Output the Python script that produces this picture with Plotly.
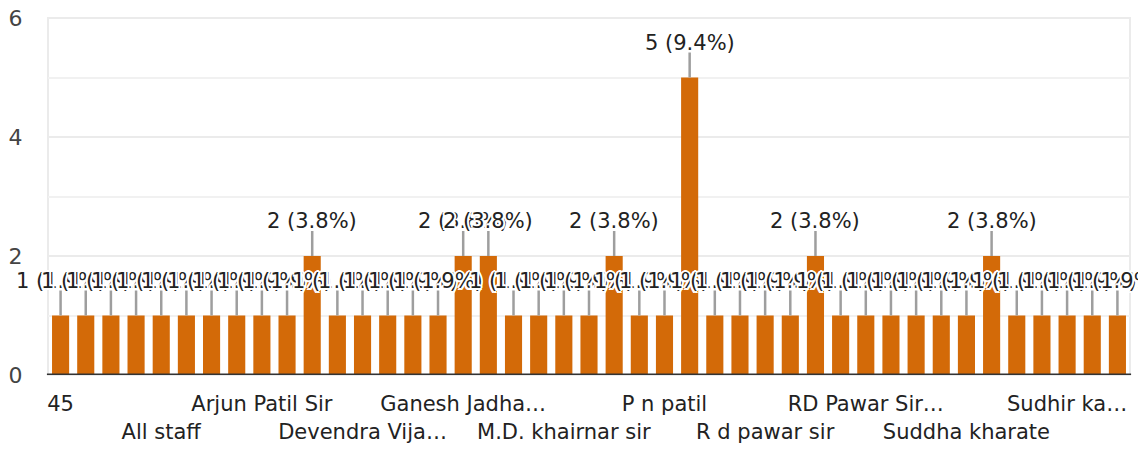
import plotly.graph_objects as go

# Responses per person (43 answers, alphabetical order)
counts = [1, 1, 1, 1, 1, 1, 1, 1, 1, 1, 2, 1, 1,
          1, 1, 1, 2, 2, 1, 1, 1, 1, 2, 1, 1, 5, 1, 1,
          1, 1, 2, 1, 1, 1, 1, 1, 1, 2, 1, 1, 1, 1, 1]

# Axis labels that fit under the bars (every fourth answer)
label_index = [0, 4, 8, 12, 16, 20, 24, 28, 32, 36, 40]
label_text = ["45", "All staff", "Arjun Patil Sir", "Devendra Vija…",
              "Ganesh Jadha…", "M.D. khairnar sir", "P n patil",
              "R d pawar sir", "RD Pawar Sir…", "Suddha kharate",
              "Sudhir ka…"]

y_ticks = [0, 2, 4, 6]

BAR = "#d36a08"
TEXT = "#222222"
FONT = "DejaVu Sans"
HALO = ("-2px 0 0 #fff, 2px 0 0 #fff, 0 -2px 0 #fff, 0 2px 0 #fff, "
        "-1.5px -1.5px 0 #fff, 1.5px 1.5px 0 #fff, -1.5px 1.5px 0 #fff, 1.5px -1.5px 0 #fff")

total = sum(counts)
x = list(range(len(counts)))

fig = go.Figure(go.Bar(x=x, y=counts, marker=dict(color=BAR, line=dict(width=0)),
                       hoverinfo="skip"))

# alternate the category labels over two rows
ticktext = [t if k % 2 == 0 else " <br>" + t for k, t in enumerate(label_text)]

shapes = [
    # light frame around the plotting area
    dict(type="rect", xref="paper", yref="paper", x0=0, x1=1, y0=0, y1=1,
         line=dict(color="#ebebeb", width=2), layer="below"),
    # dark baseline
    dict(type="line", xref="paper", yref="y", x0=-0.001, x1=1.001, y0=0, y1=0,
         line=dict(color="#333333", width=3), layer="above"),
]
annotations = []
for i, c in enumerate(counts):
    shapes.append(dict(type="line", xref="x", yref="y", ysizemode="pixel",
                       yanchor=c, x0=i, x1=i, y0=0, y1=25,
                       line=dict(color="#9e9e9e", width=2.5), layer="above"))
    annotations.append(dict(x=i, y=c, xref="x", yref="y",
                            text=f"{c} ({c / total * 100:.1f}%)",
                            showarrow=False, yanchor="middle", yshift=35,
                            font=dict(family=FONT, size=21, color=TEXT,
                                      shadow=HALO)))

fig.update_layout(
    width=1138, height=450,
    margin=dict(l=48, r=8, t=18, b=75),
    paper_bgcolor="white", plot_bgcolor="white",
    bargap=0.32,
    showlegend=False,
    font=dict(family=FONT, color=TEXT),
    xaxis=dict(range=[-0.5, len(counts) - 0.5], tickmode="array",
               tickvals=label_index, ticktext=ticktext, tickangle=0,
               automargin=False,
               tickfont=dict(family=FONT, size=21, color=TEXT),
               showgrid=False, zeroline=False, showline=False,
               ticks="outside", ticklen=10, tickcolor="rgba(0,0,0,0)"),
    yaxis=dict(range=[0, 6], tickmode="array", tickvals=y_ticks,
               automargin=False,
               tickfont=dict(family=FONT, size=22, color="#444444"),
               showgrid=True, gridcolor="#ebebeb", gridwidth=2,
               minor=dict(dtick=1, showgrid=True, gridcolor="#f1f1f1", gridwidth=2),
               zeroline=False, showline=False,
               ticks="outside", ticklen=20, tickcolor="rgba(0,0,0,0)"),
    shapes=shapes,
    annotations=annotations,
)

fig.write_html("out.html")
